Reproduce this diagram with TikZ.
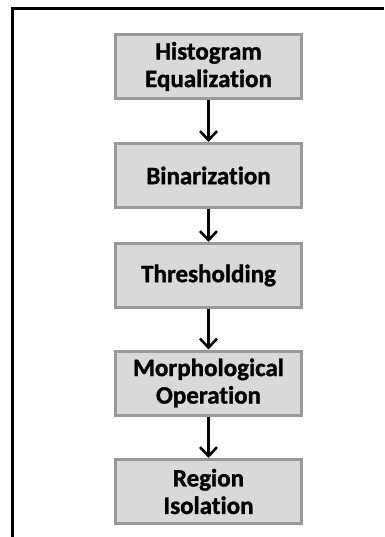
\documentclass[tikz,border=0pt]{standalone}
\usepackage{fontspec}
\setmainfont{Carlito}[Ligatures=NoCommon]
\newfontfamily\boxfont{Carlito}[Ligatures=NoCommon,UprightFont=* Bold,FakeBold=1.2]
\usetikzlibrary{arrows.meta,shadows}
\definecolor{boxfill}{HTML}{D9D9D9}
\definecolor{boxline}{HTML}{999999}
\tikzset{
  stepbox/.style={draw=boxline, line width=3pt, fill=boxfill,
    minimum width=186pt, minimum height=64pt, inner sep=0pt, align=center,
    font=\boxfont\fontsize{25}{27.5}\selectfont,
    drop shadow={shadow xshift=1.2pt, shadow yshift=-1.2pt, fill=gray!60, opacity=0.6}},
  flow/.style={line width=2.8pt, -{Straight Barb[length=9pt,width=17pt,line width=2.6pt]}}
}
\begin{document}
\begin{tikzpicture}[x=1pt,y=-1pt]
\useasboundingbox (0,0) rectangle (384,537);
\fill[white] (0,0) rectangle (384,537);
\draw[line width=3pt] (12.5,537) -- (12.5,9) -- (384,9);
\node[stepbox] (b1) at (208.5,66.5) {Histogram\\Equalization};
\node[stepbox] (b2) at (208.5,175.5) {Binarization};
\node[stepbox] (b3) at (208.5,275.5) {Thresholding};
\node[stepbox] (b4) at (208.5,383) {Morphological\\Operation};
\node[stepbox] (b5) at (208.5,491.5) {Region\\Isolation};
\draw[flow] (b1) -- (b2);
\draw[flow] (b2) -- (b3);
\draw[flow] (b3) -- (b4);
\draw[flow] (b4) -- (b5);
\end{tikzpicture}
\end{document}
